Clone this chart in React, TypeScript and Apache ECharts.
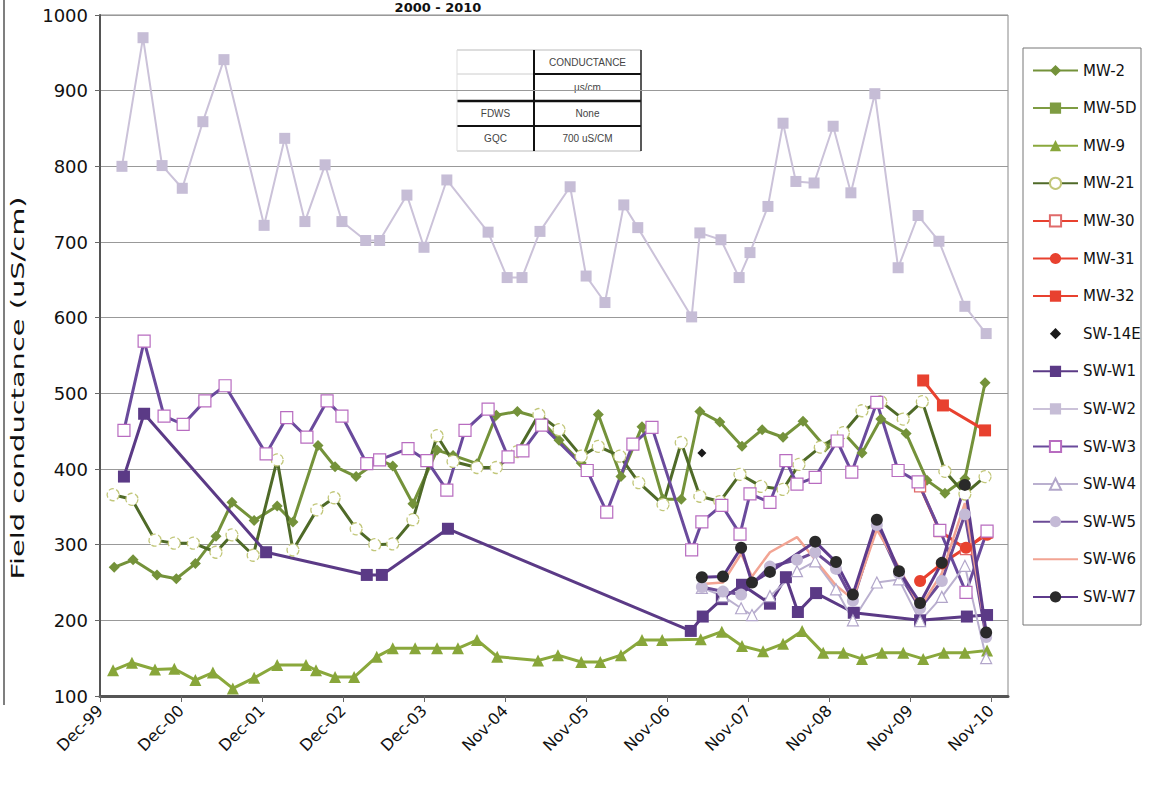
import React, { useEffect, useRef } from "react";
import * as echarts from "echarts";

// ---------- data ----------
const xTickLabels = ["Dec-99", "Dec-00", "Dec-01", "Dec-02", "Dec-03", "Nov-04", "Nov-05", "Nov-06", "Nov-07", "Nov-08", "Nov-09", "Nov-10"];
const axisStartDate = "1999-12-15";
const yTicks = { min: 100, max: 1000, step: 100 };
const titleText = "2000 - 2010";
const yAxisTitle = "Field conductance (uS/cm)";
const tableRows = [
  ["", "CONDUCTANCE"],
  ["", "µs/cm"],
  ["FDWS", "None"],
  ["GQC", "700 uS/CM"],
];

type Pt = [string, number];

const mw2: Pt[] = [["2000-02-17",270],["2000-05-12",280],["2000-08-28",260],["2000-11-23",255],["2001-02-17",275],["2001-05-21",311],["2001-08-01",356],["2001-11-09",332],["2002-02-21",351],["2002-05-03",330],["2002-08-24",431],["2002-11-09",403],["2003-02-12",390],["2003-05-29",412],["2003-07-27",404],["2003-10-26",354],["2004-02-12",425],["2004-04-24",418],["2004-08-10",407],["2004-11-05",471],["2005-02-08",476],["2005-05-16",468],["2005-08-15",438],["2005-11-23",408],["2006-02-08",472],["2006-05-21",390],["2006-08-24",456],["2006-11-27",360],["2007-02-17",360],["2007-05-12",476],["2007-08-10",462],["2007-11-18",430],["2008-02-17",452],["2008-05-21",442],["2008-08-19",463],["2008-11-27",429],["2009-02-21",447],["2009-05-12",421],["2009-08-05",466],["2009-11-27",447],["2010-03-01",385],["2010-05-21",368],["2010-08-19",387],["2010-11-18",514]];
const mw5d: Pt[] = [];
const mw9: Pt[] = [["2000-02-12",134],["2000-05-07",144],["2000-08-19",135],["2000-11-14",136],["2001-02-17",121],["2001-05-07",131],["2001-08-05",110],["2001-11-09",124],["2002-02-21",141],["2002-07-01",141],["2002-08-15",134],["2002-11-09",125],["2003-02-03",125],["2003-05-16",152],["2003-07-27",163],["2003-11-05",163],["2004-02-12",163],["2004-05-16",163],["2004-08-10",174],["2004-11-09",152],["2005-05-12",147],["2005-08-10",154],["2005-11-23",145],["2006-02-17",145],["2006-05-21",154],["2006-08-24",174],["2006-11-23",174],["2007-05-16",175],["2007-08-19",185],["2007-11-18",166],["2008-02-21",159],["2008-05-21",169],["2008-08-15",186],["2008-11-18",157],["2009-02-17",157],["2009-05-12",149],["2009-08-10",157],["2009-11-14",157],["2010-02-12",149],["2010-05-16",157],["2010-08-19",157],["2010-11-27",160]];
const mw21: Pt[] = [["2000-02-12",366],["2000-05-07",360],["2000-08-19",306],["2000-11-14",302],["2001-02-08",302],["2001-05-21",290],["2001-08-01",313],["2001-11-05",286],["2002-02-21",412],["2002-05-03",293],["2002-08-19",346],["2002-11-05",362],["2003-02-12",321],["2003-05-07",300],["2003-07-27",301],["2003-10-26",333],["2004-02-12",444],["2004-04-24",410],["2004-08-10",402],["2004-11-05",402],["2005-02-08",423],["2005-05-16",472],["2005-08-15",452],["2005-11-23",417],["2006-02-08",430],["2006-05-16",417],["2006-08-10",382],["2006-11-27",353],["2007-02-17",435],["2007-05-12",364],["2007-08-10",357],["2007-11-09",393],["2008-02-12",377],["2008-05-21",373],["2008-08-01",406],["2008-11-05",429],["2009-02-17",448],["2009-05-12",477],["2009-08-05",489],["2009-11-14",466],["2010-02-08",489],["2010-05-21",397],["2010-08-19",367],["2010-11-18",390]];
const mw30: Pt[] = [["2010-01-29",377],["2010-04-28",318],["2010-08-24",294],["2010-11-27",316]];
const mw31: Pt[] = [["2010-01-29",252],["2010-05-07",275],["2010-08-24",296],["2010-11-27",313]];
const mw32: Pt[] = [["2010-02-12",517],["2010-05-12",484],["2010-11-18",451]];
const sw14e: Pt[] = [["2007-05-21",421]];
const swW1: Pt[] = [["2000-04-01",390],["2000-07-01",473],["2002-01-02",290],["2003-04-01",260],["2003-06-08",260],["2004-04-01",321],["2007-04-01",186],["2007-05-25",205],["2007-08-19",228],["2007-11-18",247],["2008-03-23",222],["2008-06-03",257],["2008-07-27",211],["2008-10-17",236],["2009-04-05",210],["2010-01-29",200],["2010-08-28",205],["2010-11-27",207]];
const swW2: Pt[] = [["2000-03-23",800],["2000-06-26",970],["2000-09-20",801],["2000-12-20",771],["2001-03-23",859],["2001-06-26",941],["2001-12-24",722],["2002-03-27",837],["2002-06-26",727],["2002-09-25",802],["2002-12-10",727],["2003-03-27",702],["2003-05-29",702],["2003-09-29",762],["2003-12-15",693],["2004-03-27",782],["2004-09-29",713],["2004-12-24",653],["2005-03-01",653],["2005-05-21",714],["2005-10-04",773],["2005-12-15",655],["2006-03-10",620],["2006-06-03",749],["2006-08-05",719],["2007-04-05",601],["2007-05-12",712],["2007-08-15",703],["2007-11-05",653],["2007-12-24",686],["2008-03-14",747],["2008-05-21",857],["2008-07-18",780],["2008-10-08",778],["2009-01-02",853],["2009-03-23",765],["2009-07-09",896],["2009-10-22",666],["2010-01-20",735],["2010-04-24",701],["2010-08-19",615],["2010-11-23",579]];
const swW3: Pt[] = [["2000-04-01",451],["2000-07-01",569],["2000-09-29",470],["2000-12-24",459],["2001-04-01",490],["2001-07-01",510],["2002-01-02",420],["2002-04-05",468],["2002-07-05",442],["2002-10-04",490],["2002-12-10",470],["2003-04-01",407],["2003-05-29",412],["2003-10-04",427],["2003-12-28",411],["2004-03-27",372],["2004-06-17",451],["2004-09-29",479],["2004-12-28",416],["2005-03-05",424],["2005-05-29",458],["2005-12-20",398],["2006-03-18",343],["2006-07-14",433],["2006-10-08",455],["2007-04-05",293],["2007-05-21",330],["2007-08-19",352],["2007-11-09",314],["2007-12-24",367],["2008-03-23",356],["2008-06-03",411],["2008-07-23",380],["2008-10-13",389],["2009-01-20",437],["2009-03-27",396],["2009-07-18",488],["2009-10-22",398],["2010-01-20",383],["2010-04-28",319],["2010-08-24",237],["2010-11-27",318]];
const swW4: Pt[] = [["2007-05-21",243],["2007-08-24",232],["2007-11-14",216],["2008-01-02",207],["2008-03-23",232],["2008-07-23",265],["2008-10-13",278],["2009-01-15",241],["2009-04-01",200],["2009-07-18",250],["2009-10-26",254],["2010-01-29",199],["2010-05-07",231],["2010-08-19",272],["2010-11-23",150]];
const swW5: Pt[] = [["2007-05-21",244],["2007-08-24",238],["2007-11-14",234],["2008-03-23",271],["2008-07-23",280],["2008-10-13",290],["2009-01-15",268],["2009-04-01",226],["2009-07-18",326],["2009-10-26",262],["2010-01-29",216],["2010-05-07",252],["2010-08-19",340],["2010-11-23",178]];
const swW6: Pt[] = [["2007-05-21",248],["2007-08-24",250],["2007-11-14",288],["2008-01-02",258],["2008-03-23",290],["2008-07-23",310],["2008-10-13",280],["2009-01-15",246],["2009-04-01",228],["2009-07-18",320],["2009-10-26",270],["2010-01-29",217],["2010-05-07",262],["2010-08-19",355],["2010-11-23",182]];
const swW7: Pt[] = [["2007-05-21",257],["2007-08-24",258],["2007-11-14",296],["2008-01-02",250],["2008-03-23",264],["2008-10-13",304],["2009-01-15",277],["2009-04-01",234],["2009-07-18",333],["2009-10-26",265],["2010-01-29",223],["2010-05-07",276],["2010-08-19",379],["2010-11-23",184]];

// ---------- helpers ----------
const DAY = 86400000;
const YEAR_DAYS = 365.25;
const T0 = Date.parse(axisStartDate + "T00:00:00Z");
const toX = (d: string) => (Date.parse(d + "T00:00:00Z") - T0) / DAY;
const conv = (arr: Pt[]) => arr.map(([d, v]) => [toX(d), v]);

const FONT = "DejaVu Sans";

function lineSeries(name: string, data: Pt[], o: any) {
  return {
    type: "line",
    name,
    data: conv(data),
    symbol: o.symbol,
    symbolSize: o.size,
    showSymbol: o.symbol !== "none",
    lineStyle: { color: o.line, width: o.width ?? 3, opacity: o.lineOpacity ?? 1 },
    itemStyle: {
      color: o.fill,
      borderColor: o.border ?? o.fill,
      borderWidth: o.bw ?? 0,
      borderType: o.btype ?? "solid",
    },
    emphasis: { disabled: true },
    z: o.z ?? 2,
  };
}

export default function App() {
  const ref = useRef<HTMLDivElement>(null);

  useEffect(() => {
    if (!ref.current) return;
    const chart = echarts.init(ref.current, undefined, { renderer: "svg" });

    const tableX = [457, 534, 641];
    const tableY = [50, 74, 101, 126, 151];
    const tableGraphics: any[] = [
      { type: "rect", shape: { x: tableX[0], y: tableY[0], width: tableX[2] - tableX[0], height: tableY[4] - tableY[0] }, style: { fill: "#fff" } },
      { type: "line", shape: { x1: tableX[0], y1: tableY[0], x2: tableX[2], y2: tableY[0] }, style: { stroke: "#bbb", lineWidth: 1 } },
      { type: "line", shape: { x1: tableX[0], y1: tableY[1], x2: tableX[1], y2: tableY[1] }, style: { stroke: "#ccc", lineWidth: 1 } },
      { type: "line", shape: { x1: tableX[1], y1: tableY[1], x2: tableX[2], y2: tableY[1] }, style: { stroke: "#111", lineWidth: 2 } },
      { type: "line", shape: { x1: tableX[0], y1: tableY[2], x2: tableX[2], y2: tableY[2] }, style: { stroke: "#111", lineWidth: 2.5 } },
      { type: "line", shape: { x1: tableX[0], y1: tableY[3], x2: tableX[2], y2: tableY[3] }, style: { stroke: "#111", lineWidth: 2 } },
      { type: "line", shape: { x1: tableX[0], y1: tableY[4], x2: tableX[2], y2: tableY[4] }, style: { stroke: "#bbb", lineWidth: 1 } },
      { type: "line", shape: { x1: tableX[0], y1: tableY[0], x2: tableX[0], y2: tableY[4] }, style: { stroke: "#ddd", lineWidth: 1 } },
      { type: "line", shape: { x1: tableX[1], y1: tableY[0], x2: tableX[1], y2: tableY[4] }, style: { stroke: "#111", lineWidth: 2 } },
      { type: "line", shape: { x1: tableX[2], y1: tableY[0], x2: tableX[2], y2: tableY[4] }, style: { stroke: "#222", lineWidth: 1.5 } },
    ];
    tableRows.forEach((row, i) => {
      const cy = (tableY[i] + tableY[i + 1]) / 2;
      row.forEach((txt, j) => {
        if (!txt) return;
        tableGraphics.push({
          type: "text",
          x: (tableX[j] + tableX[j + 1]) / 2,
          y: cy,
          style: { text: txt, fill: "#444", font: "10px 'Liberation Sans'", align: "center", verticalAlign: "middle" },
        });
      });
    });

    const legendNames = ["MW-2", "MW-5D", "MW-9", "MW-21", "MW-30", "MW-31", "MW-32", "SW-14E", "SW-W1", "SW-W2", "SW-W3", "SW-W4", "SW-W5", "SW-W6", "SW-W7"];

    const option: any = {
      animation: false,
      backgroundColor: "#fff",
      grid: { left: 100, right: 142, top: 15, bottom: 89, show: true, borderColor: "#888", borderWidth: 1 },
      xAxis: {
        type: "value",
        min: 0,
        max: YEAR_DAYS * 11.21,
        interval: YEAR_DAYS,
        axisLine: { show: true, lineStyle: { color: "#555", width: 3 } },
        axisTick: { show: true, length: 6, lineStyle: { color: "#666" } },
        splitLine: { show: false },
        axisLabel: {
          rotate: 45,
          margin: 12,
          fontSize: 16,
          fontFamily: FONT,
          color: "#111",
          showMaxLabel: false,
          formatter: (v: number) => {
            const k = v / YEAR_DAYS;
            const i = Math.round(k);
            return Math.abs(k - i) < 0.01 && xTickLabels[i] ? xTickLabels[i] : "";
          },
        },
      },
      yAxis: {
        type: "value",
        min: yTicks.min,
        max: yTicks.max,
        interval: yTicks.step,
        axisLine: { show: true, lineStyle: { color: "#555", width: 2 } },
        axisTick: { show: true, length: 5, lineStyle: { color: "#666" } },
        splitLine: { show: true, lineStyle: { color: "#999", width: 1 } },
        axisLabel: { fontSize: 18, fontFamily: FONT, color: "#111", margin: 12, formatter: (v: number) => String(v) },
      },
      legend: {
        orient: "vertical",
        left: 1027,
        top: 58,
        itemWidth: 45,
        itemHeight: 14,
        itemGap: 22.6,
        selectedMode: false,
        textStyle: { fontSize: 15, fontFamily: FONT, color: "#111" },
        data: legendNames.map((n) =>
          n === "SW-W6" ? { name: n, itemStyle: { color: "rgba(0,0,0,0)", borderWidth: 0 } } : n
        ),
      },
      graphic: [
        { type: "rect", shape: { x: 1023, y: 48, width: 118, height: 577 }, style: { fill: "none", stroke: "#777", lineWidth: 1 } },
        { type: "line", shape: { x1: 4, y1: 0, x2: 4, y2: 705 }, style: { stroke: "#555", lineWidth: 1.5 } },
        { type: "text", x: 438, y: 1, style: { text: titleText, font: "bold 13px 'DejaVu Sans'", fill: "#111", align: "center", verticalAlign: "top" } },
        { type: "text", x: 18, y: 388, rotation: Math.PI / 2, scaleX: 1.7, style: { text: yAxisTitle, font: "17px 'DejaVu Sans'", fill: "#111", align: "center", verticalAlign: "middle" } },
        ...tableGraphics,
      ],
      series: [
        lineSeries("MW-2", mw2, { symbol: "diamond", size: 11, line: "#74923a", fill: "#74923a" }),
        lineSeries("MW-5D", mw5d, { symbol: "rect", size: 10, line: "#7e9c42", fill: "#7e9c42" }),
        lineSeries("MW-9", mw9, { symbol: "triangle", size: 12, line: "#8aa83c", fill: "#88a63a" }),
        lineSeries("MW-21", mw21, { symbol: "circle", size: 12, line: "#4f6a28", fill: "#ffffff", border: "#c2c77a", bw: 1.3, btype: "dashed" }),
        lineSeries("MW-30", mw30, { symbol: "rect", size: 11, line: "#e8412f", fill: "#ffffff", border: "#e06a6a", bw: 1.3 }),
        lineSeries("MW-31", mw31, { symbol: "circle", size: 12, line: "#e8412f", fill: "#e8412f" }),
        lineSeries("MW-32", mw32, { symbol: "rect", size: 12, line: "#e8412f", fill: "#e8412f" }),
        lineSeries("SW-14E", sw14e, { symbol: "diamond", size: 9, line: "#1a1a1a", fill: "#1a1a1a", width: 0, lineOpacity: 0 }),
        lineSeries("SW-W1", swW1, { symbol: "rect", size: 12, line: "#5b3a86", fill: "#5b3a86" }),
        lineSeries("SW-W2", swW2, { symbol: "rect", size: 11, line: "#cbc2d9", fill: "#c6bdd6", width: 2 }),
        lineSeries("SW-W3", swW3, { symbol: "rect", size: 12, line: "#6a4a9c", fill: "#ffffff", border: "#b86cc0", bw: 1.2 }),
        lineSeries("SW-W4", swW4, { symbol: "triangle", size: 11, line: "#bab0cf", fill: "#ffffff", border: "#b2a6ca", bw: 1.2, width: 2 }),
        lineSeries("SW-W5", swW5, { symbol: "circle", size: 12, line: "#6b4b96", fill: "#c4bad6" }),
        lineSeries("SW-W6", swW6, { symbol: "none", size: 4, line: "#f2a493", fill: "#f2a493", width: 2.5 }),
        lineSeries("SW-W7", swW7, { symbol: "circle", size: 12, line: "#5e3b8c", fill: "#2a2a2a" }),
      ],
    };

    chart.setOption(option);
    return () => chart.dispose();
  }, []);

  return (
    <div
      ref={ref}
      style={{ position: "absolute", left: 0, top: 0, width: 1150, height: 785, background: "#fff" }}
    />
  );
}
